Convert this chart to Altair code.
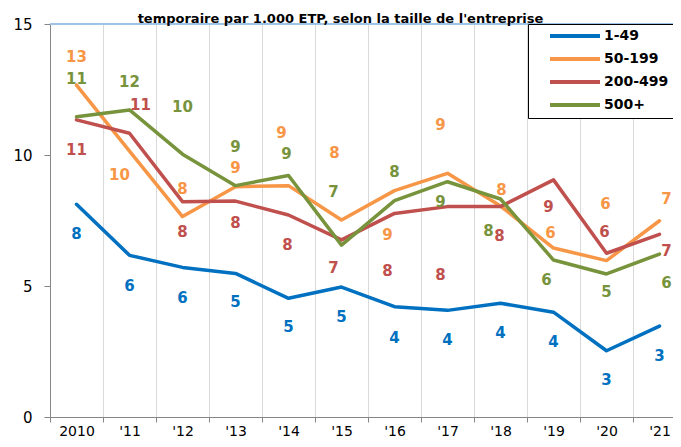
import altair as alt
import pandas as pd

years = ["2010", "'11", "'12", "'13", "'14", "'15", "'16", "'17", "'18", "'19", "'20", "'21"]
series_names = ["1-49", "50-199", "200-499", "500+"]

v_1_49 = [8.12, 6.17, 5.71, 5.48, 4.53, 4.96, 4.21, 4.07, 4.34, 4.00, 2.53, 3.47]
v_50_199 = [12.67, 10.15, 7.65, 8.79, 8.83, 7.52, 8.64, 9.30, 8.05, 6.45, 5.97, 7.49]
v_200_499 = [11.34, 10.83, 8.22, 8.24, 7.71, 6.76, 7.77, 8.03, 8.03, 9.05, 6.25, 6.97]
v_500 = [11.46, 11.72, 10.03, 8.83, 9.22, 6.56, 8.26, 8.98, 8.32, 5.99, 5.46, 6.22]

# label placement offsets (pixels) for the data labels
dx_1_49 = [0, 0, 0, 0, 0, 0, 0, 0, 0, 0, 0, 0]
dy_1_49 = [30, 31, 31, 29, 29, 30, 31, 30, 30, 30, 29, 30]
dx_50_199 = [0, -10, 0, 0, -7, -7, -7, -7, 1, -3, -1, 7]
dy_50_199 = [-28, 24, -28, -19, -53, -67, 44, -48, -16, -15, -57, -22]
dx_200_499 = [0, 11, 0, 0, -1, -8, -7, -7, -1, -5, -2, 7]
dy_200_499 = [30, -28, 30, 22, 30, 28, 58, 68, 29, 27, -21, 17]
dx_500 = [0, 0, 0, 0, -2, -8, 0, -7, -12, -7, 0, 7]
dy_500 = [-38, -28, -47, -39, -21, -53, -29, 20, 32, 20, 18, 29]

colors = ["#0070C0", "#F79646", "#C0504D", "#77933C"]

PLOT_H = 393
STEP = 53
N = len(years)
PX_PER_UNIT = PLOT_H / 15

rows = []
for name, vals, dxs, dys in zip(
    series_names,
    [v_1_49, v_50_199, v_200_499, v_500],
    [dx_1_49, dx_50_199, dx_200_499, dx_500],
    [dy_1_49, dy_50_199, dy_200_499, dy_500],
):
    for yr, v, dx, dy in zip(years, vals, dxs, dys):
        rows.append({"year": yr, "series": name, "value": v, "dx": dx, "dy": dy})
df = pd.DataFrame(rows)

FONT = "DejaVu Sans"

x_scale = alt.Scale(type="band", paddingInner=0, paddingOuter=0, range=[0, STEP * N])
x_axis = alt.Axis(
    title=None, tickBand="extent", grid=True, gridColor="#D9D9D9",
    domainColor="#868686", tickColor="#868686", tickSize=5, labelAngle=0,
    labelFontSize=14, labelColor="black", labelFont=FONT, labelPadding=2,
)
x_enc = alt.X("year:O", sort=years, bandPosition=0.5, scale=x_scale, axis=x_axis)

y_scale = alt.Scale(domain=[0, 15], nice=False, zero=True)
y_axis = alt.Axis(
    title=None, values=[0, 5, 10, 15], grid=False, tickSize=6,
    tickColor="#868686", domainColor="#868686", labelFontSize=15,
    labelColor="black", labelFont=FONT, labelPadding=12,
)
color_scale = alt.Scale(domain=series_names, range=colors)

base = alt.Chart(df)

top_rule = alt.Chart(df).mark_rule(color="#9DC3E6", strokeWidth=1).encode(
    y=alt.datum(15)
)

lines = base.mark_line(strokeWidth=3.5, strokeCap="round", strokeJoin="round").encode(
    x=x_enc,
    y=alt.Y("value:Q", scale=y_scale, axis=y_axis),
    color=alt.Color(
        "series:N", sort=series_names, scale=color_scale,
        legend=alt.Legend(
            title=None, orient="none", legendX=478, legendY=0,
            strokeColor="black", fillColor="white", padding=5,
            symbolType="M-5,0L5,0", symbolSize=100, symbolStrokeWidth=4,
            symbolOffset=35, labelOffset=22, labelFontSize=14,
            labelFontWeight="bold", labelFont=FONT, labelColor="black",
            rowPadding=7,
        ),
    ),
)

labels = (
    base.transform_calculate(
        label_y=f"datum.value - datum.dy / {PX_PER_UNIT}",
        label_x=f"datum.dx + {STEP / 2}",
    )
    .mark_text(fontSize=15, fontWeight="bold", font=FONT, baseline="middle")
    .encode(
        x=alt.X("year:O", sort=years, scale=x_scale, axis=x_axis),
        xOffset=alt.XOffset("label_x:Q", scale=None),
        y=alt.Y("label_y:Q", scale=y_scale, axis=y_axis),
        text=alt.Text("value:Q", format=".0f"),
        color=alt.Color("series:N", sort=series_names, scale=color_scale, legend=None),
    )
)

chart = (
    alt.layer(top_rule, lines, labels)
    .properties(
        width=623,
        height=PLOT_H,
        autosize=alt.AutoSizeParams(type="none"),
        padding={"left": 42, "top": 16, "right": 0, "bottom": 22},
        title=alt.TitleParams(
            "temporaire par 1.000 ETP, selon la taille de l'entreprise",
            fontSize=13, fontWeight="bold", font=FONT, color="black",
            anchor="middle", offset=2, dx=-21, dy=11,
        ),
    )
    .configure_view(stroke=None)
)

chart.save("out.html", embed_options={"renderer": "svg", "actions": False})
